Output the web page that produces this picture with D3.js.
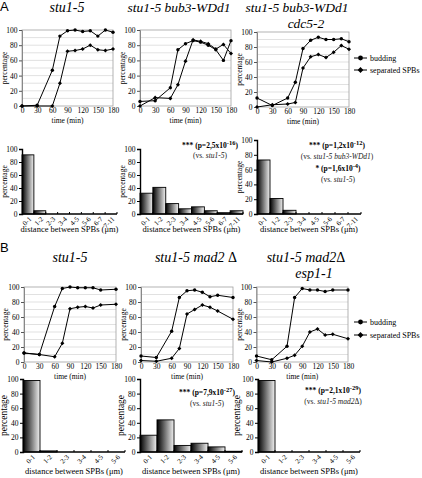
<!DOCTYPE html>
<html><head><meta charset="utf-8">
<script src="https://cdn.jsdelivr.net/npm/d3@7"></script>
<style>body{margin:0;background:#fff}svg{display:block}</style>
</head><body><svg id="c" width="422" height="478"></svg>
<script>
// ---------- DATA ----------
const timeTicks = [0,30,60,90,120,150,180];
const timesA = [0,30,60,75,90,105,120,135,150,165,180];
const timesB = [0,30,60,75,90,105,120,135,150,180];
const A1_budding   = [0,1,47,92,99,100,98,99,92,100,97];
const A1_separated = [0,0,0,30,72,73,75,80,74,73,75];
const A2_budding   = [6,7,24,74,82,86,84,80,74,60,86];
const A2_separated = [0,11,10,28,59,87,85,82,75,81,69];
const A3_budding   = [12,2,12,33,78,89,93,90,90,91,87];
const A3_separated = [0,3,4,6,52,67,70,66,73,82,77];
const B1_budding   = [12,10,74,98,100,99,99,99,96,97];
const B1_separated = [12,10,7,25,71,73,74,72,76,77];
const B2_budding   = [8,6,41,86,95,96,93,87,89,86];
const B2_separated = [2,1,5,18,64,70,76,73,68,57];
const B3_budding   = [8,3,21,86,98,96,96,94,96,96];
const B3_separated = [2,0,5,9,21,40,44,36,37,31];
const pctTicks = [0,20,40,60,80,100];
const distA = ["0-1","1-2","2-3","3-4","4-5","5-6","6-7","7-11"];
const distB = ["0-1","1-2","2-3","3-4","4-5","5-6"];
const A1_dist = [91,5,0,0,0,0,0,0];
const A2_dist = [32,41,16,8,11,5,2,5];
const A3_dist = [73,21,5,0,0,0,0,0];
const B1_dist = [98,1.5,0,0,0,0];
const B2_dist = [23,44,9,12,7,1];
const B3_dist = [98,0,0,0,0,0];
const legendLabels = ["budding","separated SPBs"];

// ---------- DRAW ----------
const SERIF = '"Liberation Serif","Times New Roman",serif';
const svg = d3.select('#c');
const defs = svg.append('defs');
const grad = defs.append('linearGradient').attr('id','bg').attr('x1','0%').attr('x2','100%').attr('y1','0%').attr('y2','0%');
grad.append('stop').attr('offset','0%').attr('stop-color','#000');
grad.append('stop').attr('offset','100%').attr('stop-color','#f2f2f2');

function marker(g, type, cx, cy, s) {
  if (type === 0) g.append('circle').attr('cx',cx).attr('cy',cy).attr('r',s).attr('fill','#000');
  else g.append('path').attr('d',`M${cx-s*1.2},${cy}L${cx},${cy-s*1.2}L${cx+s*1.2},${cy}L${cx},${cy+s*1.2}Z`).attr('fill','#000');
}

function lineChart(p, times, bud, sep) {
  const x = d3.scaleLinear().domain([0,180]).range([p.l,p.r]);
  const y = d3.scaleLinear().domain([0,100]).range([p.b,p.t]);
  const g = svg.append('g');
  g.append('g').selectAll('line').data(d3.range(10,100,10)).join('line')
    .attr('x1',p.l).attr('x2',p.r).attr('y1',d=>y(d)).attr('y2',d=>y(d))
    .attr('stroke','#d9d9d9').attr('stroke-width',0.8);
  g.append('rect').attr('x',p.l).attr('y',p.t).attr('width',p.r-p.l).attr('height',p.b-p.t)
    .attr('fill','none').attr('stroke','#a0a0a0').attr('stroke-width',0.8);
  const ya = g.append('g').attr('transform',`translate(${p.l},0)`)
    .call(d3.axisLeft(y).tickValues(pctTicks).tickSize(3).tickPadding(1.5));
  ya.attr('font-family',SERIF).attr('font-size',7.5);
  ya.select('.domain').attr('stroke','#888');
  ya.selectAll('.tick line').attr('stroke','#555');
  const xa = g.append('g').attr('transform',`translate(0,${p.b})`)
    .call(d3.axisBottom(x).tickValues(timeTicks).tickSize(0).tickPadding(2));
  xa.attr('font-family',SERIF).attr('font-size',7.5);
  xa.select('.domain').remove();
  g.append('text').attr('x',(p.l+p.r)/2).attr('y',p.b+16.5).attr('text-anchor','middle')
    .attr('font-family',SERIF).attr('font-size',7.5).text('time (min)');
  g.append('text').attr('transform',`translate(${p.yl},${(p.t+p.b)/2}) rotate(-90)`).attr('text-anchor','middle')
    .attr('font-family',SERIF).attr('font-size',7.5).text('percentage');
  [bud, sep].forEach((vals, k) => {
    const line = d3.line().x((d,i)=>x(times[i])).y(d=>y(d));
    g.append('path').datum(vals).attr('d',line).attr('fill','none').attr('stroke','#000').attr('stroke-width',1);
    vals.forEach((v,i)=>marker(g,k,x(times[i]),y(v),1.7));
  });
}

function legend(x0, y0, dy) {
  legendLabels.forEach((lab,k)=>{
    const yy = y0 + k*dy;
    svg.append('line').attr('x1',x0).attr('x2',x0+13).attr('y1',yy).attr('y2',yy).attr('stroke','#000').attr('stroke-width',1);
    marker(svg,k,x0+6.5,yy,2.4);
    svg.append('text').attr('x',x0+16).attr('y',yy+2.8).attr('font-family',SERIF).attr('font-size',8).text(lab);
  });
}

function barChart(p, cats, vals) {
  const x = d3.scaleBand().domain(cats).range([p.l,p.r]).padding(0);
  const y = d3.scaleLinear().domain([0,100]).range([p.b,p.t]);
  const g = svg.append('g');
  g.selectAll('rect.bar').data(vals).join('rect').attr('class','bar')
    .attr('x',(d,i)=>x(cats[i])).attr('width',x.bandwidth())
    .attr('y',d=>y(d)).attr('height',d=>p.b-y(d))
    .attr('fill','url(#bg)').attr('stroke','#000').attr('stroke-width',0.9);
  const ya = g.append('g').attr('transform',`translate(${p.l},0)`)
    .call(d3.axisLeft(y).tickValues(pctTicks).tickSize(3).tickPadding(1.5));
  ya.attr('font-family',SERIF).attr('font-size',p.fs);
  ya.select('.domain').attr('stroke','#000').attr('stroke-width',1.4);
  g.append('line').attr('x1',p.l).attr('x2',p.r).attr('y1',p.b).attr('y2',p.b).attr('stroke','#000').attr('stroke-width',1.4);
  g.selectAll('line.bt').data(cats).join('line').attr('class','bt')
    .attr('x1',d=>x(d)+x.bandwidth()).attr('x2',d=>x(d)+x.bandwidth())
    .attr('y1',p.b).attr('y2',p.b-2).attr('stroke','#000').attr('stroke-width',1);
  g.selectAll('text.cl').data(cats).join('text').attr('class','cl')
    .attr('transform',d=>`translate(${x(d)+x.bandwidth()/2+4},${p.b+5.5}) rotate(-45)`)
    .attr('text-anchor','end').attr('font-family',SERIF).attr('font-size',7).text(d=>d);
  g.append('text').attr('x',(p.l+p.r)/2).attr('y',p.xly).attr('text-anchor','middle')
    .attr('font-family',SERIF).attr('font-size',8.5).text('distance between SPBs (μm)');
  g.append('text').attr('transform',`translate(${p.yl},${(p.t+p.b)/2}) rotate(-90)`).attr('text-anchor','middle')
    .attr('font-family',SERIF).attr('font-size',p.yfs).text('percentage');
}

function pval(cx, cy, stars, mant, exp) {
  const t = svg.append('text').attr('x',cx).attr('y',cy).attr('text-anchor','middle')
    .attr('font-family',SERIF).attr('font-weight','bold').attr('font-size',7.5);
  t.append('tspan').text(`${stars} (p=${mant}x10`);
  t.append('tspan').attr('dy',-3).attr('font-size',6.5).text(exp);
  t.append('tspan').attr('dy',3).text(')');
}
function vs(cx, cy, strain, tail) {
  const t = svg.append('text').attr('x',cx).attr('y',cy).attr('text-anchor','middle')
    .attr('font-family',SERIF).attr('font-size',7.5).attr('fill','#222');
  t.append('tspan').text('(vs. ');
  t.append('tspan').attr('font-style','italic').text(strain);
  if (tail) t.append('tspan').text(tail);
  t.append('tspan').text(')');
}
function title(cx, cy, txt, tail, fs) {
  const t = svg.append('text').attr('x',cx).attr('y',cy).attr('text-anchor','middle')
    .attr('font-family',SERIF).attr('font-size',fs);
  t.append('tspan').attr('font-style','italic').text(txt);
  if (tail) t.append('tspan').text(tail);
}
function panelLetter(x, y, t) {
  svg.append('text').attr('x',x).attr('y',y).attr('font-family','"Liberation Sans",Arial,sans-serif')
    .attr('font-size',13).text(t);
}

// Panel A
panelLetter(0, 11, 'A');
title(67, 12, 'stu1-5', null, 14);
title(179, 12, 'stu1-5 bub3-WDd1', null, 13.5);
title(297, 12, 'stu1-5 bub3-WDd1', null, 13.5);
title(306, 28, 'cdc5-2', null, 13.5);
lineChart({l:22,r:113,t:30,b:106,yl:7}, timesA, A1_budding, A1_separated);
lineChart({l:140,r:231,t:30,b:106,yl:125}, timesA, A2_budding, A2_separated);
lineChart({l:257,r:349,t:32,b:107,yl:242}, timesA, A3_budding, A3_separated);
legend(354, 58, 12);
barChart({l:22,r:117,t:149,b:214,yl:7,fs:7.5,yfs:7.5,xly:232}, distA, A1_dist);
barChart({l:140,r:243,t:149,b:214,yl:125,fs:7.5,yfs:7.5,xly:232}, distA, A2_dist);
barChart({l:257,r:361,t:140,b:214,yl:242,fs:7.5,yfs:7.5,xly:232}, distA, A3_dist);
pval(210, 148, '***', '2,5', '-16'); vs(210, 158, 'stu1-5');
pval(337, 148, '***', '1,2', '-12'); vs(337, 159, 'stu1-5 bub3-WDd1');
pval(338, 171, '*', '1,6', '-4'); vs(338, 182, 'stu1-5');

// Panel B
panelLetter(0, 252, 'B');
title(70, 262, 'stu1-5', null, 14);
title(196, 262, 'stu1-5 mad2 ', 'Δ', 14);
title(306, 262, 'stu1-5 mad2', 'Δ', 14);
title(314, 278, 'esp1-1', null, 14);
lineChart({l:24,r:116,t:287,b:362,yl:8}, timesB, B1_budding, B1_separated);
lineChart({l:141,r:233,t:287,b:362,yl:126}, timesB, B2_budding, B2_separated);
lineChart({l:256.5,r:348,t:287,b:362,yl:242}, timesB, B3_budding, B3_separated);
legend(354, 322, 13);
barChart({l:23,r:125,t:379,b:452,yl:7,fs:7.5,yfs:9.5,xly:474}, distB, B1_dist);
barChart({l:140,r:242,t:379,b:452,yl:124,fs:7.5,yfs:9.5,xly:474}, distB, B2_dist);
barChart({l:258,r:360,t:379,b:452,yl:240,fs:7.5,yfs:9.5,xly:474}, distB, B3_dist);
pval(207, 395, '***', '7,9', '-27'); vs(207, 406, 'stu1-5');
pval(333, 393, '***', '2,1', '-29'); vs(333, 404, 'stu1-5 mad2', 'Δ');
</script></body></html>
